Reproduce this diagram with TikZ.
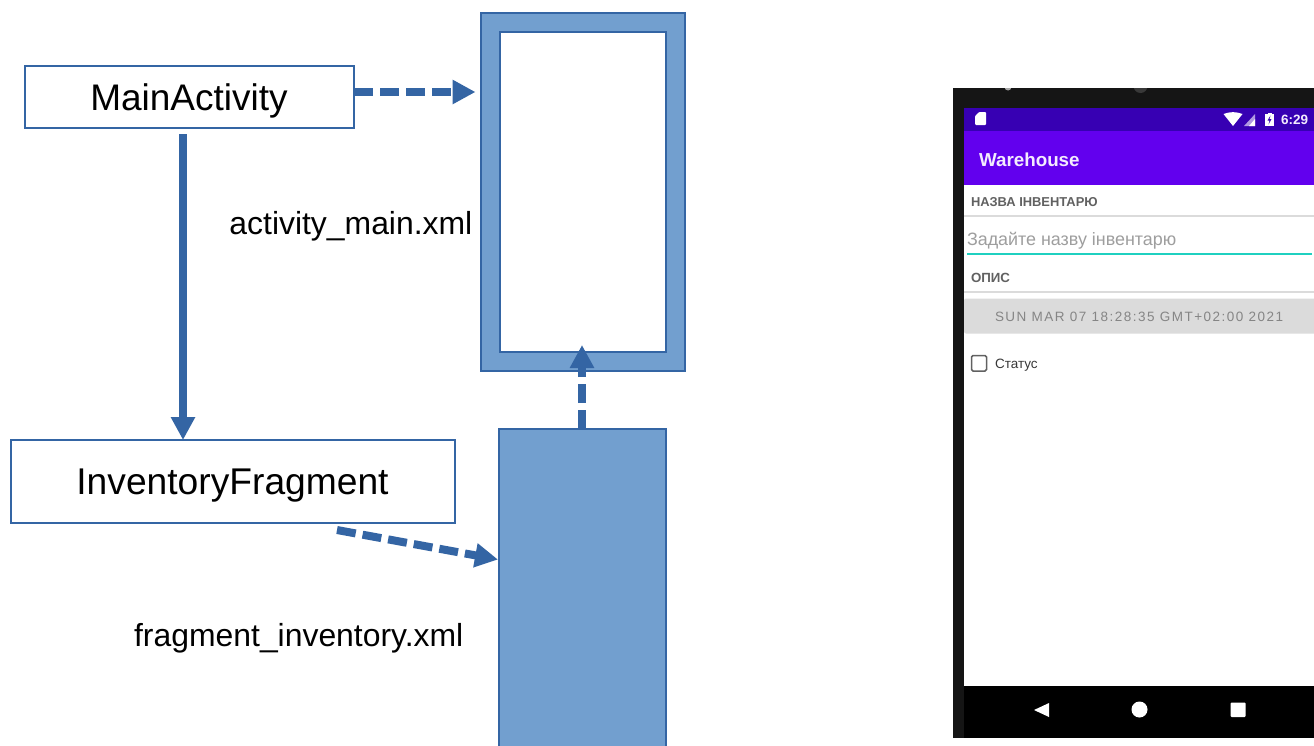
\documentclass[tikz,border=0pt]{standalone}
\usepackage{fontspec}
\setmainfont{Liberation Sans}
\usetikzlibrary{arrows.meta}
\definecolor{edgeblue}{HTML}{3465A4}
\definecolor{fillblue}{HTML}{729FCF}
\definecolor{statusbar}{HTML}{3700B3}
\definecolor{appbar}{HTML}{6200EE}
\definecolor{frameblack}{HTML}{151515}
\definecolor{teal}{HTML}{1FD0C0}
\tikzset{
 x=1pt,y=-1pt,
 box/.style={draw=edgeblue,line width=1.4pt,fill=white,inner sep=0pt,outer sep=0pt,anchor=north west},
 bluebox/.style={draw=edgeblue,line width=1.4pt,fill=fillblue,inner sep=0pt,outer sep=0pt,anchor=north west},
 whitebox/.style={draw=edgeblue,line width=1.4pt,fill=white,inner sep=0pt,outer sep=0pt,anchor=north west},
 lbl/.style={font=\fontsize{31.9}{36}\selectfont,inner sep=0pt,text=black},
 conn/.style={draw=edgeblue,line width=8pt,-{Triangle[length=23pt,width=23pt]}},
 dconn/.style={conn,dash pattern=on 19pt off 7pt},
 flat/.style={inner sep=0pt,outer sep=0pt,anchor=north west,draw=none},
 phonetxt/.style={inner sep=0pt,outer sep=0pt,anchor=west},
}
\begin{document}
\begin{tikzpicture}
\useasboundingbox (0,0) rectangle (1314,745);
\clip (0,0) rectangle (1314,745);
\fill[white] (0,0) rectangle (1314,745);
% diagram
\node[bluebox,minimum width=204pt,minimum height=358pt] (mainlayout) at (481,13) {};
\node[whitebox,minimum width=166pt,minimum height=320pt] (mainscreen) at (500,32) {};
\node[bluebox,minimum width=167pt,minimum height=340pt] (fraglayout) at (499,429) {};
\node[box,minimum width=329pt,minimum height=62pt] (mainact) at (25,66) {};
\node[font=\fontsize{37}{40}\selectfont,inner sep=0pt] (mainacttxt) at (189,100.5) {MainActivity};
\node[box,minimum width=444pt,minimum height=83pt] (invfrag) at (11,440) {};
\node[font=\fontsize{37.2}{40}\selectfont,inner sep=0pt] (invfragtxt) at (232.5,486) {InventoryFragment};
\node[lbl,anchor=east] (mainxml) at (472.5,226) {activity\_main.xml};
\node[lbl,anchor=east] (fragxml) at (463.5,638) {fragment\_inventory.xml};
% connectors
\coordinate (a1) at (354,92);
\coordinate (a2) at (475.5,92);
\draw[dconn] (a1) -- (a2);
\coordinate (b1) at (183,134);
\coordinate (b2) at (183,440);
\draw[conn] (b1) -- (b2);
\coordinate (c1) at (337,530);
\coordinate (c2) at (498,559.5);
\draw[dconn] (c1) -- (c2);
\coordinate (d1) at (582,429);
\coordinate (d2) at (582,345);
\draw[dconn] (d1) -- (d2);
% phone
\node[flat,fill=frameblack,minimum width=361pt,minimum height=650pt] (phone) at (953,88) {};
\fill[gray!70] (1008,87) circle (3.5);
\fill[gray!45!black] (1140.5,86) circle (7);
\fill[white] (953,60) rectangle (1314,88);
\node[flat,fill=white,minimum width=350pt,minimum height=501pt] (screen) at (964,185) {};
\node[flat,fill=statusbar,minimum width=350pt,minimum height=23pt] (status) at (964,108) {};
\node[flat,fill=appbar,minimum width=350pt,minimum height=54pt] (apptop) at (964,131) {};
\node[flat,fill=black,minimum width=350pt,minimum height=52pt] (nav) at (964,686) {};
\fill[white,rounded corners=1pt] (975,119) -- (975,116) -- (979,112) -- (986,112) -- (986,125) -- (975,125) -- cycle;
\fill[white] (1223.5,114) .. controls (1230,111.5) and (1236,111.5) .. (1242.5,114) -- (1233,126) -- cycle;
\fill[white!60!statusbar] (1255,114) -- (1255,126) -- (1244,126) -- cycle;
\fill[white] (1255,119) -- (1255,126) -- (1249,126) -- cycle;
\fill[white] (1265,114) rectangle (1274,126);
\fill[white] (1267.5,112.5) rectangle (1271.5,114);
\fill[statusbar] (1270.5,115.5) -- (1267.5,120.5) -- (1269.5,120.5) -- (1268.5,124.5) -- (1271.5,119) -- (1269.5,119) -- cycle;
\node[phonetxt,font=\bfseries\fontsize{13.5}{15}\selectfont,text=white!92!appbar] (clock) at (1281,120) {6:29};
\node[phonetxt,font=\bfseries\fontsize{18.8}{22}\selectfont,text=white!92!appbar] (title) at (979,160) {Warehouse};
\node[phonetxt,font=\bfseries\fontsize{12.9}{14}\selectfont,text=black!62] (name) at (971,202.5) {НАЗВА ІНВЕНТАРЮ};
\fill[black!14] (964,215) rectangle (1314,216.5);
\node[phonetxt,font=\fontsize{17.9}{20}\selectfont,text=black!38] (hint) at (967,241) {Задайте назву інвентарю};
\fill[teal] (967,253.3) rectangle (1312,255);
\node[phonetxt,font=\bfseries\fontsize{13.3}{14}\selectfont,text=black!62] (descr) at (971,278) {ОПИС};
\fill[black!14] (964,291) rectangle (1314,292.5);
\fill[black!14,rounded corners=2pt] (964,298.5) rectangle (1320,333.5);
\node[phonetxt,font=\addfontfeatures{LetterSpace=11}\fontsize{13.5}{15}\selectfont,text=black!48] (datetxt) at (995,316.8) {SUN MAR 07 18:28:35 GMT+02:00 2021};
\draw[black!62,line width=1.5pt,rounded corners=1.5pt] (971.5,355.5) rectangle (986.5,371);
\node[phonetxt,font=\fontsize{13.5}{15}\selectfont,text=black!78] (stat) at (995,365) {Статус};
\fill[white] (1049,703) -- (1049,717) -- (1034,710) -- cycle;
\fill[white] (1139.5,709.5) circle (8);
\fill[white,rounded corners=1pt] (1230.5,702.5) rectangle (1245.5,717);
\end{tikzpicture}
\end{document}
